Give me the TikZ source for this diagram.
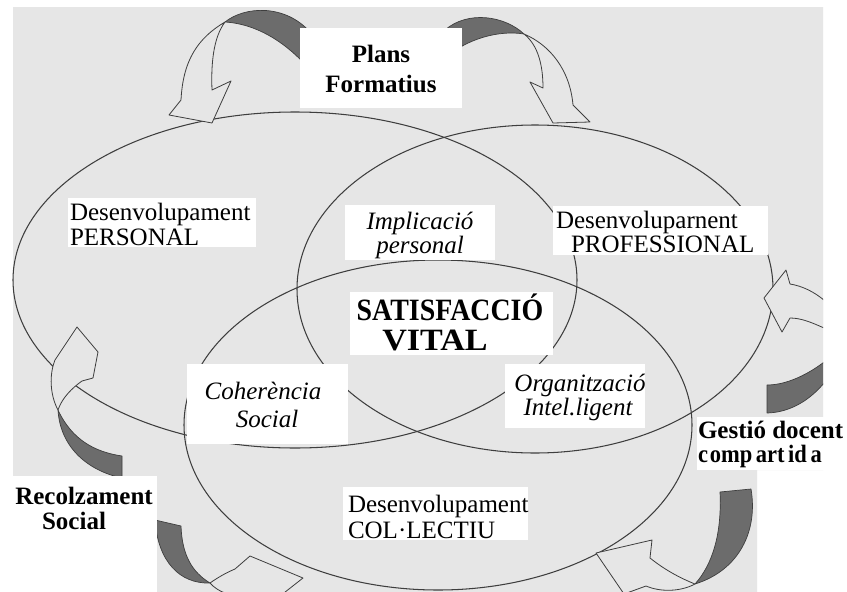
\documentclass[tikz,border=0pt]{standalone}
\usepackage{fontspec}
\setmainfont{Liberation Serif}
\usepackage{graphicx}
\definecolor{bg}{RGB}{230,230,230}
\definecolor{shadegrey}{RGB}{108,108,108}
\definecolor{ink}{RGB}{62,62,62}
% two-line blocks whose baseline is the first line's baseline
\newcommand\ctwo[3]{\vtop{\baselineskip=#1\relax\lineskiplimit=-100pt\relax\lineskip=0pt\relax\halign{\hfil##\hfil\cr#2\cr#3\cr}}}
\newcommand\ltwo[3]{\vtop{\baselineskip=#1\relax\lineskiplimit=-100pt\relax\lineskip=0pt\relax\halign{##\hfil\cr#2\cr#3\cr}}}
\begin{document}
\begin{tikzpicture}[x=1pt,y=-1pt,
  ell/.style={draw=ink,line width=1.05pt},
  back/.style={fill=shadegrey,draw=ink,line width=0.7pt,line join=round},
  face/.style={fill=bg,draw=ink,line width=0.8pt,line join=round},
  wbox/.style={fill=white,draw=none,inner sep=0pt,outer sep=0pt,anchor=north west},
  lbl/.style={inner sep=0pt,outer sep=0pt,text=black},
  rg/.style={lbl,font=\fontsize{25}{25}\selectfont},
  bf/.style={lbl,font=\bfseries\fontsize{25}{25}\selectfont},
  itx/.style={lbl,font=\itshape\fontsize{25}{25}\selectfont},
  bigbf/.style={lbl,font=\bfseries\fontsize{31}{31}\selectfont}]
\useasboundingbox (0,0) rectangle (847,592);
% background (scanned page)
\fill[white] (0,0) rectangle (847,592);
\fill[bg] (13,7) -- (823,7) -- (823,470) -- (757,470) -- (757,592) -- (157,592) -- (157,531) -- (13,531) -- cycle;
% the three ellipses
\draw[ell] (295,280) ellipse [x radius=282, y radius=168];
\draw[ell] (535,289) ellipse [x radius=238, y radius=164];
\draw[ell] (438,425) ellipse [x radius=254, y radius=165];
% curved ribbon arrows
\begin{scope}
\clip (13,7) rectangle (823,592);
% top left
\draw[back] (225,22) .. controls (245,6) and (285,4) .. (310,32) -- (310,70) .. controls (288,44) and (258,24) .. (225,22) -- cycle;
\draw[face] (225,22) .. controls (198,38) and (183,60) .. (181,100) -- (169,115) -- (212,123) -- (231,81) -- (212,90) .. controls (211,65) and (213,38) .. (225,22) -- cycle;
% top right
\draw[back] (524,34) .. controls (505,16) and (468,10) .. (445,30) -- (445,58) .. controls (468,38) and (500,30) .. (524,34) -- cycle;
\draw[face] (524,34) .. controls (550,45) and (570,70) .. (573,105) -- (590,122) -- (553,123) -- (530,82) -- (543,88) .. controls (543,65) and (538,45) .. (524,34) -- cycle;
% right upper
\draw[back] (850,335) .. controls (838,355) and (800,385) .. (767,385) -- (767,413) .. controls (805,412) and (835,380) .. (850,335) -- cycle;
\draw[face] (764,298) -- (786,270) -- (790,284) .. controls (815,288) and (838,308) .. (850,335) .. controls (832,336) and (812,318) .. (790,318) -- (782,332) -- cycle;
% right lower
\draw[back] (720,492) -- (751,489) .. controls (758,530) and (740,570) .. (695,584) .. controls (712,565) and (722,535) .. (720,492) -- cycle;
\draw[face] (695,584) .. controls (680,592) and (660,592) .. (646,586) -- (624,594) -- (596,553) -- (652,540) -- (650,558) .. controls (665,570) and (680,578) .. (695,584) -- cycle;
% left upper
\draw[back] (58,410) .. controls (60,445) and (85,470) .. (122,478) -- (122,456) .. controls (95,452) and (72,440) .. (58,410) -- cycle;
\draw[face] (58,410) .. controls (50,395) and (49,375) .. (55,360) -- (77,327) -- (98,352) -- (93,378) -- (82,381) .. controls (72,388) and (62,398) .. (58,410) -- cycle;
% left lower
\draw[back] (155,520) -- (181,526) .. controls (182,555) and (192,572) .. (210,583) .. controls (180,584) and (158,562) .. (155,520) -- cycle;
\draw[face] (210,583) .. controls (220,576) and (228,572) .. (235,569) -- (250,556) -- (303,578) -- (275,600) -- (245,597) .. controls (230,596) and (218,592) .. (210,583) -- cycle;
\end{scope}
% label boxes
\node[wbox,minimum width=162,minimum height=80] (plansbox) at (300,28) {};
\node[wbox,minimum width=188,minimum height=49] (persbox) at (68,198) {};
\node[wbox,minimum width=150,minimum height=55] (implbox) at (345,205) {};
\node[wbox,minimum width=215,minimum height=49] (profbox) at (553,206) {};
\node[wbox,minimum width=203,minimum height=63] (satbox) at (350,292) {};
\node[wbox,minimum width=161,minimum height=80] (cohbox) at (187,364) {};
\node[wbox,minimum width=140,minimum height=64] (orgbox) at (505,364) {};
\node[wbox,minimum width=150,minimum height=53] (gestbox) at (697,417) {};
\node[wbox,minimum width=144,minimum height=116] (recbox) at (13,476) {};
\node[wbox,minimum width=185,minimum height=53] (colbox) at (343,487) {};
% texts (anchored on the baseline of their first line)
\node[bf,anchor=base] (plans) at (381,62) {\ctwo{30pt}{Plans}{Formatius}};
\node[rg,anchor=base west] (pers) at (70,220) {\ltwo{25pt}{Desenvolupament}{PERSONAL}};
\node[itx,anchor=base] (impl) at (420,229) {\ctwo{24pt}{Implicació}{personal}};
\node[rg,anchor=base west] (prof) at (556,228) {\ltwo{24pt}{Desenvoluparnent}{\kern15pt PROFESSIONAL}};
\node[bigbf,anchor=base] (sat) at (450,320) {\ctwo{30.5pt}{\scalebox{0.9}[1]{SATISFACCIÓ}}{\scalebox{1.1}[1]{VITAL}\kern30pt}};
\node[itx,anchor=base] (coh) at (263,399) {\ctwo{28pt}{Coherència}{\kern8pt Social}};
\node[itx,anchor=base] (org) at (580,391) {\ctwo{24pt}{Organització}{Intel.ligent\kern4pt}};
\node[bf,anchor=base west] (gest) at (698,438) {\ltwo{24pt}{Gestió docent}{\scalebox{0.9}[1]{c\kern2pt omp\kern4pt art\kern4pt id\kern4pt a}}};
\node[bf,anchor=base] (rec) at (84,504) {\ctwo{25pt}{Recolzament}{Social\kern20pt}};
\node[rg,anchor=base west] (col) at (348,512) {\ltwo{26pt}{Desenvolupament}{COL·LECTIU}};
\end{tikzpicture}
\end{document}
